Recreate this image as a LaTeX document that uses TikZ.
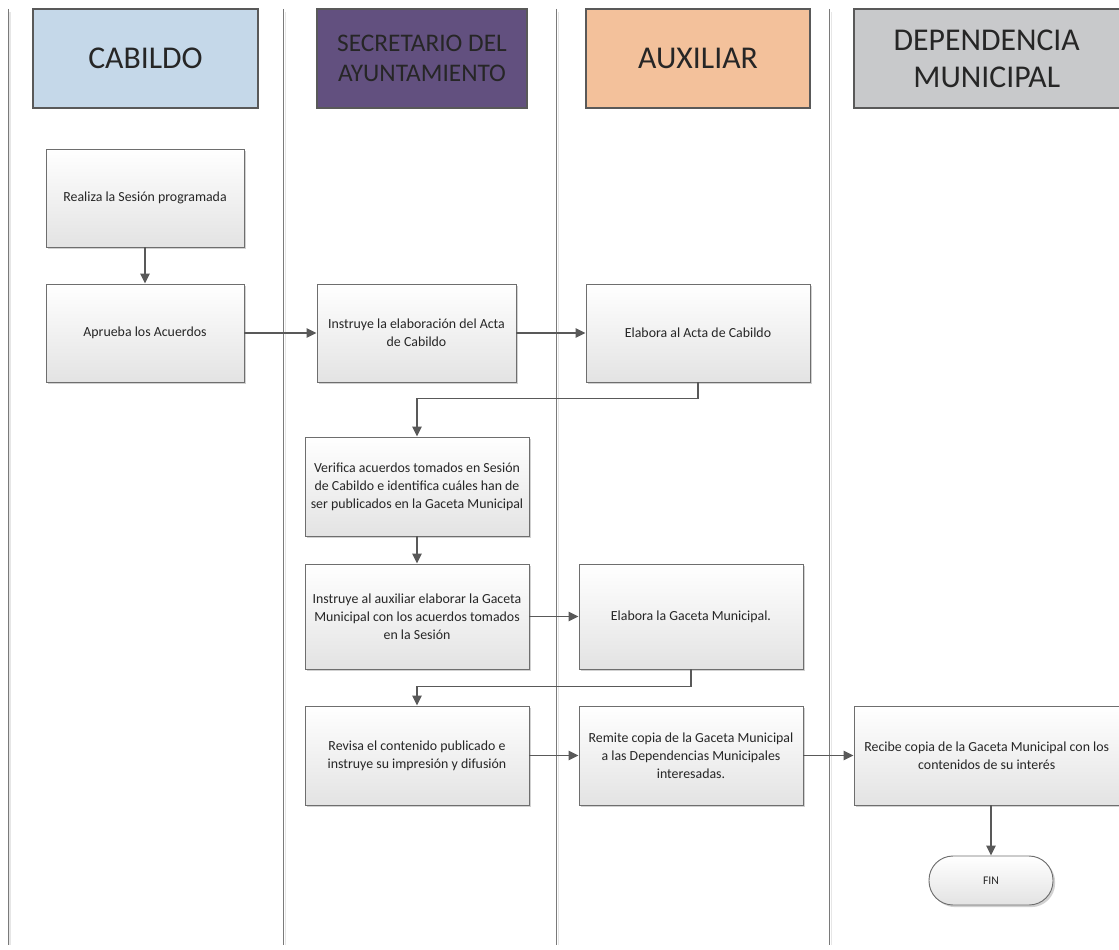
\documentclass[tikz,border=0pt]{standalone}
\usepackage{fontspec}
\setmainfont{Carlito}
\usetikzlibrary{arrows.meta,shadows}

\definecolor{laneline}{HTML}{7A7A7A}
\definecolor{laneshade}{HTML}{E6E6E6}
\definecolor{boxline}{HTML}{6E6E6E}
\definecolor{boxgrey}{HTML}{E3E3E3}
\definecolor{arrowgrey}{HTML}{595959}
\definecolor{txt}{HTML}{262626}
\definecolor{cabildo}{HTML}{C5D8E9}
\definecolor{secretario}{HTML}{62507F}
\definecolor{auxiliar}{HTML}{F3C19B}
\definecolor{dependencia}{HTML}{C8C9CB}

\tikzset{
  lane/.style={draw=laneline, line width=0.7pt},
  laneglow/.style={draw=laneshade, line width=1.2pt},
  header/.style={draw=arrowgrey, line width=1.1pt, text=txt, align=center,
    font=\fontsize{23.8}{28}\selectfont, inner sep=0pt},
  proc/.style={draw=boxline, line width=0.7pt, top color=white, bottom color=boxgrey,
    text=txt, align=center, font=\fontsize{10.4}{13.5}\selectfont, inner sep=0pt,
    drop shadow={shadow xshift=1.6pt, shadow yshift=-1.6pt, fill=black, opacity=0.18}},
  term/.style={proc, rounded corners=18pt, font=\fontsize{8.8}{10}\selectfont},
  arr/.style={draw=arrowgrey, line width=1.2pt,
    -{Triangle[length=7.5pt,width=7pt]}},
}

% box given by its corners in pixel units (x1,y1) (x2,y2), y growing downwards
\newcommand\pbox[7][proc]{%
  \node[#1, minimum width={(#5-#3)*0.75pt}, minimum height={(#6-#4)*0.75pt}]
    (#2) at ({(#3+#5)/2},{(#4+#6)/2}) {#7};}

\begin{document}
\begin{tikzpicture}[x=0.75pt, y=-0.75pt]
\useasboundingbox (0,0) rectangle (1119,949);

% swimlane separators, each with a faint shade on its right
\foreach \lx in {8,283.5,556.5,829.5}{
  \draw[laneglow] (\lx+2,12) -- (\lx+2,945);
  \draw[lane] (\lx,9) -- (\lx,945);
}

% lane headers
\pbox[header, fill=cabildo]{hCab}{33}{9}{258}{108}{CABILDO}
\pbox[header, fill=secretario, font=\fontsize{19}{23}\selectfont]{hSec}{317}{9}{527}{108}{SECRETARIO DEL\\AYUNTAMIENTO}
\pbox[header, fill=auxiliar]{hAux}{586}{9}{810}{108}{AUXILIAR}
\pbox[header, fill=dependencia]{hDep}{854}{9}{1119.5}{108}{DEPENDENCIA\\MUNICIPAL}

% process steps
\pbox{realiza}{46}{149}{244}{247}{Realiza la Sesión programada}
\pbox{aprueba}{46}{284}{244}{382}{Aprueba los Acuerdos}
\pbox{instActa}{317}{284}{516}{382}{Instruye la elaboración del Acta\\de Cabildo}
\pbox{elabActa}{586}{284}{810}{382}{Elabora al Acta de Cabildo}
\pbox{verifica}{305}{437}{529}{536}{Verifica acuerdos tomados en Sesión\\de Cabildo e identifica cuáles han de\\ser publicados en la Gaceta Municipal}
\pbox{instGaceta}{305}{564}{529}{669}{Instruye al auxiliar elaborar la Gaceta\\Municipal con los acuerdos tomados\\en la Sesión}
\pbox{elabGaceta}{579}{564}{803}{669}{Elabora la Gaceta Municipal.}
\pbox{revisa}{305}{706}{529}{805}{Revisa el contenido publicado e\\instruye su impresión y difusión}
\pbox{remite}{579}{706}{803}{805}{Remite copia de la Gaceta Municipal\\a las Dependencias Municipales\\interesadas.}
\pbox{recibe}{854}{706}{1119.5}{805}{Recibe copia de la Gaceta Municipal con los\\contenidos de su interés}
\pbox[term]{fin}{929}{856}{1053}{905}{FIN}

% connectors
\draw[arr] (realiza) -- (aprueba);
\draw[arr] (aprueba) -- (instActa);
\draw[arr] (instActa) -- (elabActa);
\draw[arr] (elabActa.south) -- ++(0,16) -| (verifica.north);
\draw[arr] (verifica) -- (instGaceta);
\draw[arr] (instGaceta) -- (elabGaceta);
\draw[arr] (elabGaceta.south) -- ++(0,17) -| (revisa.north);
\draw[arr] (revisa) -- (remite);
\draw[arr] (remite) -- (recibe);
\draw[arr] (recibe.south -| fin.north) -- (fin.north);
\end{tikzpicture}
\end{document}
